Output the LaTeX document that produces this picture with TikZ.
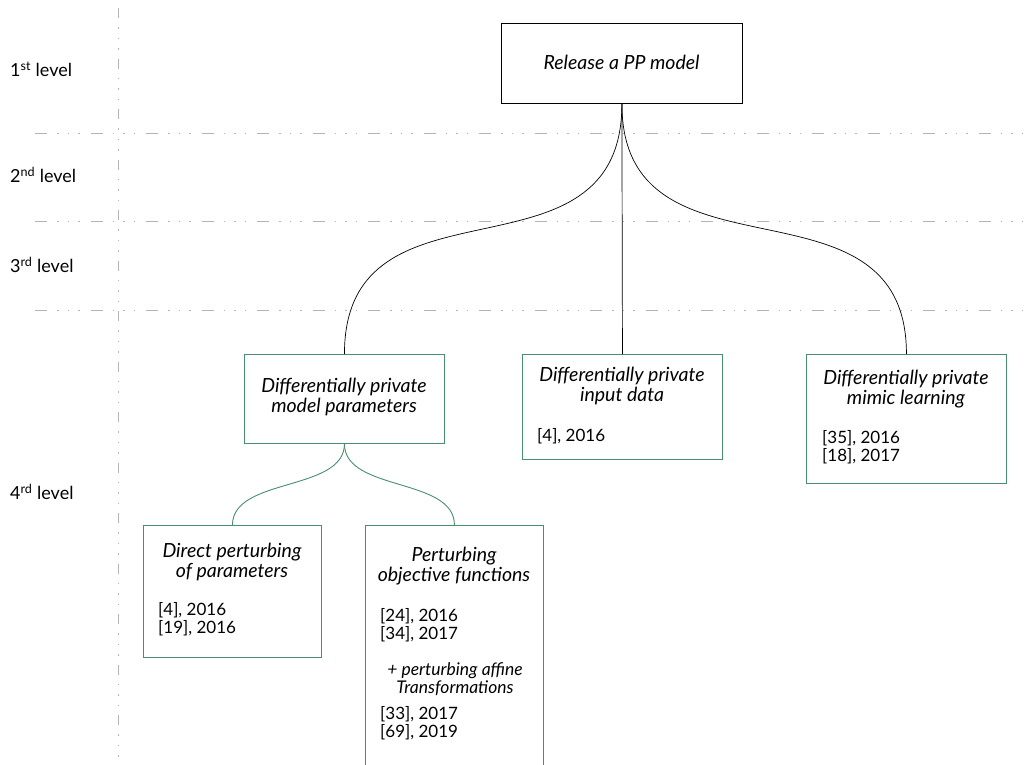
\documentclass[tikz,border=0pt]{standalone}
\usepackage{fontspec}
\setmainfont{Lato}
\definecolor{boxgreen}{RGB}{72,142,112}
\definecolor{guide}{RGB}{180,180,180}
\begin{document}
\begin{tikzpicture}[x=1pt,y=-1pt,
  hguide/.style={guide, line width=0.8pt, dash pattern=on 12pt off 10pt on 1.5pt off 9pt on 1.5pt off 9pt on 1.5pt off 11pt},
  vguide/.style={guide, line width=0.8pt, dash pattern=on 10pt off 9pt on 1.5pt off 9pt on 1.5pt off 9pt on 1.5pt off 9pt},
  rootbox/.style={draw=black, line width=0.8pt, inner sep=0, anchor=north west},
  gbox/.style={draw=boxgreen, line width=0.9pt, inner sep=0, anchor=north west},
  title/.style={font=\fontsize{19.5}{20}\selectfont\itshape, align=center, inner sep=0},
  refs/.style={font=\fontsize{17}{18.5}\selectfont, align=left, inner sep=0, anchor=north west},
  note/.style={font=\fontsize{17.5}{18}\selectfont\itshape, align=center, inner sep=0},
  lvl/.style={font=\fontsize{18}{20}\selectfont, anchor=west, inner sep=0},
  blackline/.style={black, line width=0.7pt},
  greenline/.style={boxgreen, line width=0.9pt}
]
\path[use as bounding box] (0,0) rectangle (1031,764);

% guides
\draw[vguide] (118,8) -- (118,764);
\draw[hguide] (35,133) -- (1031,133);
\draw[hguide] (35,221) -- (1031,221);
\draw[hguide] (35,310) -- (1031,310);

% level labels
\node[lvl] (l1) at (10,69) {1\textsuperscript{st} level};
\node[lvl] (l2) at (10,175) {2\textsuperscript{nd} level};
\node[lvl] (l3) at (10,265) {3\textsuperscript{rd} level};
\node[lvl] (l4) at (10,492) {4\textsuperscript{rd} level};

% root
\node[rootbox, minimum width=241pt, minimum height=80pt] (root) at (501,23) {};
\node[title] (roott) at (621.5,62) {Release a PP model};

% level 3 boxes
\node[gbox, minimum width=200pt, minimum height=89pt] (mp) at (244,354) {};
\node[title] (mpt) at (344,397) {Differentially private\\model parameters};

\node[gbox, minimum width=200pt, minimum height=105pt] (id) at (522,354) {};
\node[title] (idt) at (622,386) {Differentially private\\input data};
\node[refs] (idr) at (537,428) {[4], 2016};

\node[gbox, minimum width=200pt, minimum height=129pt] (ml) at (806,354) {};
\node[title] (mlt) at (906,389) {Differentially private\\mimic learning};
\node[refs] (mlr) at (822,430) {[35], 2016\\{}[18], 2017};

% level 4 boxes
\node[gbox, minimum width=178pt, minimum height=132pt] (dp) at (143,525) {};
\node[title] (dpt) at (232,562) {Direct perturbing\\of parameters};
\node[refs] (dpr) at (158,602) {[4], 2016\\{}[19], 2016};

\node[gbox, minimum width=178pt, minimum height=260pt] (po) at (365,525) {};
\node[title] (pot) at (454,566) {Perturbing\\objective functions};
\node[refs] (por) at (380,608) {[24], 2016\\{}[34], 2017};
\node[note] (pon) at (455,679) {+ perturbing affine\\Transformations};
\node[refs] (por2) at (380,706) {[33], 2017\\{}[69], 2019};

% connectors
\draw[blackline] (root.south) .. controls +(0,190) and +(0,-190) .. (mp.north);
\draw[blackline] (root.south) -- (id.north);
\draw[blackline] (root.south) .. controls +(0,190) and +(0,-190) .. (ml.north);
\draw[greenline] (mp.south) .. controls +(0,48) and +(0,-48) .. (dp.north);
\draw[greenline] (mp.south) .. controls +(0,48) and +(0,-48) .. (po.north);
\end{tikzpicture}
\end{document}
